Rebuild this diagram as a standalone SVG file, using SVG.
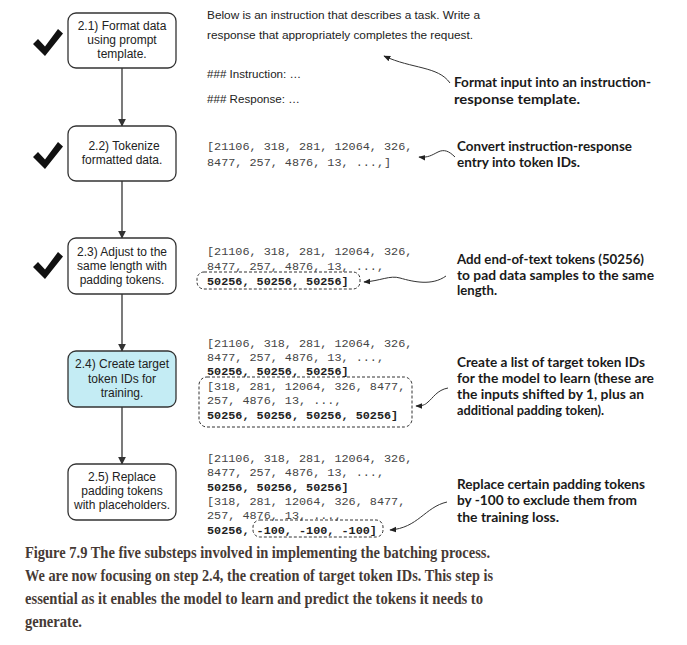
<svg xmlns="http://www.w3.org/2000/svg" width="687" height="645" viewBox="0 0 687 645">
<style>
.box{fill:#ffffff;stroke:#333;stroke-width:1.3}
.hl{fill:#c4ecf4}
.bt{font-family:"Liberation Sans",Arial,sans-serif;font-size:12px;fill:#222;text-anchor:middle}
.st{font-family:"Liberation Sans",Arial,sans-serif;font-size:11.6px;fill:#222}
.code{font-family:"Liberation Mono","Courier New",monospace;font-size:11.8px;fill:#444}
.b{font-weight:bold;fill:#222}
.ann{font-family:Lato,"Noto Sans",sans-serif;font-weight:bold;font-size:13.5px;fill:#1a1a1a}
.cap{font-family:"Liberation Serif","Times New Roman",serif;font-weight:bold;font-size:17px;fill:#463a35}
.flow{stroke:#333;stroke-width:1.3;fill:none}
.curve{stroke:#333;stroke-width:1;fill:none}
.dash{fill:none;stroke:#333;stroke-width:1;stroke-dasharray:3 2}
.chk{fill:#111}
</style>
<defs>
<marker id="ah" viewBox="0 0 10 10" refX="9" refY="5" markerWidth="8" markerHeight="8" markerUnits="userSpaceOnUse" orient="auto">
<path d="M0,0 L10,5 L0,10 z" fill="#333"/>
</marker>
<marker id="ah2" viewBox="0 0 10 10" refX="9" refY="5" markerWidth="7" markerHeight="7" markerUnits="userSpaceOnUse" orient="auto">
<path d="M0,1 L10,5 L0,9 z" fill="#222"/>
</marker>
<path id="check" d="M33,44 L38,39 L45,46.5 L58,29 L63,33.5 L45,56 Z"/>
</defs>

<g id="connectors">
<line class="flow" x1="122" y1="68" x2="122" y2="126" marker-end="url(#ah)"/>
<line class="flow" x1="122" y1="181" x2="122" y2="238" marker-end="url(#ah)"/>
<line class="flow" x1="122" y1="294" x2="122" y2="351" marker-end="url(#ah)"/>
<line class="flow" x1="122" y1="407" x2="122" y2="464" marker-end="url(#ah)"/>
<path class="curve" d="M450,83 C438,66 412,69 384,56" marker-end="url(#ah2)"/>
<path class="curve" d="M455,157 C449,151 444,149 438,152 C432,155 428,158 419,157" marker-end="url(#ah2)"/>
<path class="curve" d="M446,276 C432,286 414,282 400,278 C390,275 380,281 364,282" marker-end="url(#ah2)"/>
<path class="curve" d="M448,388 C437,390 433,398 428,402 C425,405 422,406 416,406" marker-end="url(#ah2)"/>
<path class="curve" d="M447,502 C425,507 418,528 390,530" marker-end="url(#ah2)"/>
</g>

<g id="checks">
<use href="#check" class="chk"/>
<use href="#check" class="chk" transform="translate(0,113)"/>
<use href="#check" class="chk" transform="translate(0,223)"/>
</g>

<g id="step1">
<rect class="box" x="68" y="13" width="108" height="55" rx="8"/>
<text class="bt" x="122" y="30">2.1) Format data</text>
<text class="bt" x="122" y="44">using prompt</text>
<text class="bt" x="122" y="58">template.</text>
</g>
<g id="step2">
<rect class="box" x="68" y="126" width="108" height="55" rx="8"/>
<text class="bt" x="124" y="150">2.2) Tokenize</text>
<text class="bt" x="122" y="164">formatted data.</text>
</g>
<g id="step3">
<rect class="box" x="68" y="238" width="108" height="56" rx="8"/>
<text class="bt" x="122" y="256">2.3) Adjust to the</text>
<text class="bt" x="122" y="270">same length with</text>
<text class="bt" x="122" y="284">padding tokens.</text>
</g>
<g id="step4">
<rect class="box hl" x="68" y="351" width="108" height="56" rx="8"/>
<text class="bt" x="122" y="368">2.4) Create target</text>
<text class="bt" x="122" y="383">token IDs for</text>
<text class="bt" x="122" y="397">training.</text>
</g>
<g id="step5">
<rect class="box" x="68" y="464" width="108" height="56" rx="8"/>
<text class="bt" x="122" y="481">2.5) Replace</text>
<text class="bt" x="122" y="495">padding tokens</text>
<text class="bt" x="122" y="509">with placeholders.</text>
</g>

<g id="template">
<text class="st" x="207" y="19" textLength="273" lengthAdjust="spacingAndGlyphs">Below is an instruction that describes a task. Write a</text>
<text class="st" x="207" y="39" textLength="266" lengthAdjust="spacingAndGlyphs">response that appropriately completes the request.</text>
<text class="st" x="207" y="78">### Instruction: …</text>
<text class="st" x="207" y="103">### Response: …</text>
</g>

<g id="tokens2">
<text class="code" x="207" y="150">[21106, 318, 281, 12064, 326,</text>
<text class="code" x="207" y="166">8477, 257, 4876, 13, ...,]</text>
</g>

<g id="tokens3">
<text class="code" x="207" y="255">[21106, 318, 281, 12064, 326,</text>
<text class="code" x="207" y="270">8477, 257, 4876, 13, ...,</text>
<text class="code b" x="207" y="285">50256, 50256, 50256]</text>
<rect class="dash" x="197" y="272" width="163" height="17" rx="7"/>
</g>

<g id="tokens4">
<text class="code" x="207" y="347">[21106, 318, 281, 12064, 326,</text>
<text class="code" x="207" y="361">8477, 257, 4876, 13, ...,</text>
<text class="code b" x="207" y="375">50256, 50256, 50256]</text>
<text class="code" x="207" y="390">[318, 281, 12064, 326, 8477,</text>
<text class="code" x="207" y="404">257, 4876, 13, ...,</text>
<text class="code b" x="207" y="419">50256, 50256, 50256, 50256]</text>
<rect class="dash" x="199" y="377" width="213" height="50" rx="8"/>
</g>

<g id="tokens5">
<text class="code" x="207" y="462">[21106, 318, 281, 12064, 326,</text>
<text class="code" x="207" y="476">8477, 257, 4876, 13, ...,</text>
<text class="code b" x="207" y="491">50256, 50256, 50256]</text>
<text class="code" x="207" y="505">[318, 281, 12064, 326, 8477,</text>
<text class="code" x="207" y="519">257, 4876, 13, ...,</text>
<text class="code b" x="207" y="534">50256, -100, -100, -100]</text>
<rect class="dash" x="253" y="520" width="130" height="17" rx="7"/>
</g>

<g id="annotations">
<text class="ann" x="454" y="87" textLength="197" lengthAdjust="spacingAndGlyphs">Format input into an instruction-</text>
<text class="ann" x="454" y="104" textLength="126" lengthAdjust="spacingAndGlyphs">response template.</text>
<text class="ann" x="457" y="151" textLength="175" lengthAdjust="spacingAndGlyphs">Convert instruction-response</text>
<text class="ann" x="457" y="167" textLength="123" lengthAdjust="spacingAndGlyphs">entry into token IDs.</text>
<text class="ann" x="457" y="264" textLength="187" lengthAdjust="spacingAndGlyphs">Add end-of-text tokens (50256)</text>
<text class="ann" x="457" y="280" textLength="197" lengthAdjust="spacingAndGlyphs">to pad data samples to the same</text>
<text class="ann" x="457" y="295" textLength="40" lengthAdjust="spacingAndGlyphs">length.</text>
<text class="ann" x="457" y="367" textLength="188" lengthAdjust="spacingAndGlyphs">Create a list of target token IDs</text>
<text class="ann" x="457" y="383" textLength="197" lengthAdjust="spacingAndGlyphs">for the model to learn (these are</text>
<text class="ann" x="457" y="399" textLength="187" lengthAdjust="spacingAndGlyphs">the inputs shifted by 1, plus an</text>
<text class="ann" x="457" y="415" textLength="147" lengthAdjust="spacingAndGlyphs">additional padding token).</text>
<text class="ann" x="457" y="489" textLength="188" lengthAdjust="spacingAndGlyphs">Replace certain padding tokens</text>
<text class="ann" x="457" y="505" textLength="180" lengthAdjust="spacingAndGlyphs">by -100 to exclude them from</text>
<text class="ann" x="457" y="522" textLength="102" lengthAdjust="spacingAndGlyphs">the training loss.</text>
</g>

<g id="caption">
<text class="cap" x="25" y="558" textLength="465" lengthAdjust="spacingAndGlyphs">Figure 7.9 The five substeps involved in implementing the batching process.</text>
<text class="cap" x="25" y="581" textLength="468" lengthAdjust="spacingAndGlyphs">We are now focusing on step 2.4, the creation of target token IDs. This step is</text>
<text class="cap" x="25" y="604" textLength="458" lengthAdjust="spacingAndGlyphs">essential as it enables the model to learn and predict the tokens it needs to</text>
<text class="cap" x="25" y="627" textLength="57" lengthAdjust="spacingAndGlyphs">generate.</text>
</g>
</svg>
